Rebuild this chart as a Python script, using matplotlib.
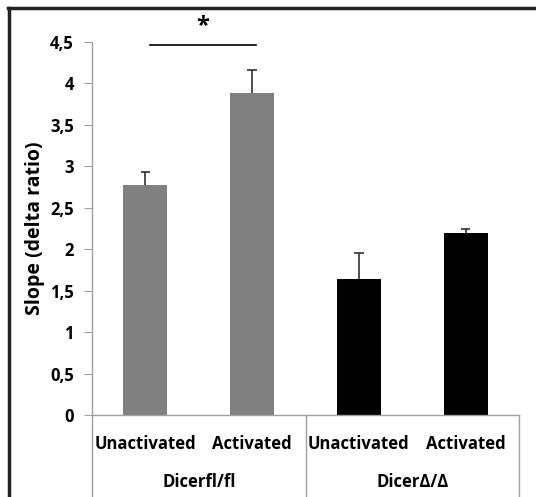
import matplotlib
matplotlib.use('Agg')
import matplotlib.pyplot as plt
from matplotlib.lines import Line2D
import matplotlib.transforms as mtransforms

conditions = ['Unactivated', 'Activated', 'Unactivated', 'Activated']
groups = ['Dicerfl/fl', 'Dicer\u0394/\u0394']
slopes = [2.78, 3.89, 1.64, 2.20]
errors = [0.15, 0.27, 0.32, 0.04]
bar_colors = ['#808080', '#808080', '#000000', '#000000']
yticks = [0, 0.5, 1, 1.5, 2, 2.5, 3, 3.5, 4, 4.5]
ytick_labels = ['0', '0,5', '1', '1,5', '2', '2,5', '3', '3,5', '4', '4,5']

plt.rcParams['font.family'] = ['Open Sans', 'DejaVu Sans']
plt.rcParams['font.weight'] = 'bold'

fig = plt.figure(figsize=(5.36, 4.97), dpi=100)
ax = fig.add_axes([92 / 536, 82 / 497, 427 / 536, 373 / 497])

x = list(range(len(slopes)))
ax.bar(x, slopes, width=0.41, color=bar_colors, zorder=2)
# plus-only error bars, like the spreadsheet original
tops = [s + e for s, e in zip(slopes, errors)]
ax.vlines(x, slopes, tops, color='#303030', lw=1.2, zorder=3)
ax.hlines(tops, [xi - 0.045 for xi in x], [xi + 0.045 for xi in x],
          color='#303030', lw=1.2, zorder=3)

ax.set_xlim(-0.5, 3.5)
ax.set_ylim(0, 4.5)
ax.set_yticks(yticks)
ax.set_yticklabels(ytick_labels, fontsize=12, fontweight='bold')
ax.set_xticks([])
ax.tick_params(axis='y', direction='out', length=6, color='#a0a0a0', pad=7)

for s in ['top', 'right']:
    ax.spines[s].set_visible(False)
for s in ['left', 'bottom']:
    ax.spines[s].set_color('#a0a0a0')
    ax.spines[s].set_linewidth(1)

ax.set_ylabel('Slope (delta ratio)', fontsize=14, fontweight='bold', labelpad=4)

# category labels under the axis
trans = mtransforms.blended_transform_factory(ax.transData, ax.transAxes)
for xi, name in zip(x, conditions):
    ax.text(xi, -0.078, name, transform=trans, ha='center', va='center',
            fontsize=12, fontweight='bold')
for gi, name in enumerate(groups):
    ax.text(gi * 2 + 0.5, -0.18, name, transform=trans, ha='center', va='center',
            fontsize=12, fontweight='bold')
for xs in [-0.5, 1.5, 3.5]:
    ax.plot([xs, xs], [0, -0.25], transform=trans, color='#a0a0a0', lw=1,
            clip_on=False)

# significance marker
ax.plot([0.04, 1.04], [4.46, 4.46], color='black', lw=1.2, clip_on=False)
ax.text(0.54, 4.69, '*', ha='center', va='center', fontsize=17, fontweight='bold')

# frame around the picture
fig.add_artist(Line2D([8 / 536, 1], [1 - 8 / 497, 1 - 8 / 497], color='#222222', lw=2.5))
fig.add_artist(Line2D([9 / 536, 9 / 536], [0, 1 - 8 / 497], color='#222222', lw=2.5))

fig.savefig('out.png', dpi=100)
